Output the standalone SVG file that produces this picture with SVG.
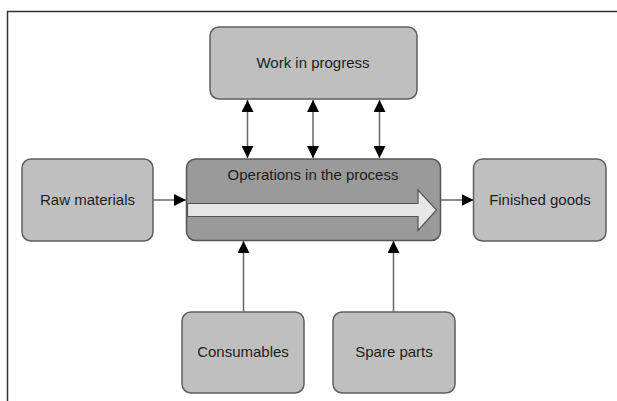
<svg xmlns="http://www.w3.org/2000/svg" width="617" height="401" viewBox="0 0 617 401">
  <defs>
    <marker id="ah" markerUnits="userSpaceOnUse" markerWidth="12" markerHeight="12" refX="12" refY="6" orient="auto-start-reverse" viewBox="0 0 12 12">
      <path d="M0,0 L12,6 L0,12 Z" fill="#000"/>
    </marker>
  </defs>
  <style>
    .box { fill: #bfbfbf; stroke: #5f5f5f; stroke-width: 1.5; }
    .main { fill: #9a9a9a; stroke: #555; stroke-width: 1.5; }
    .lbl { font-family: "Liberation Sans", Arial, sans-serif; font-size: 15px; fill: #1e1e1e; text-anchor: middle; }
    .conn { stroke: #666; stroke-width: 1.5; fill: none; }
  </style>
  <rect width="617" height="401" fill="#fff"/>
  <path d="M7.5,401 V11.5 H617" fill="none" stroke="#333" stroke-width="1.5"/>

  <g id="work-in-progress">
    <rect class="box" x="210" y="27" width="207" height="72" rx="9"/>
    <text class="lbl" x="313" y="68">Work in progress</text>
  </g>
  <g id="raw-materials">
    <rect class="box" x="22" y="159" width="131" height="82" rx="9"/>
    <text class="lbl" x="87.5" y="205">Raw materials</text>
  </g>
  <g id="operations">
    <rect class="main" x="186.5" y="159" width="254" height="81.5" rx="9"/>
    <text class="lbl" x="313" y="180">Operations in the process</text>
    <path d="M187.5,203.5 H418 V190 L436.5,210 L418,230.5 V216.5 H187.5 Z" fill="#e6e6e6" stroke="#555" stroke-width="1.2"/>
  </g>
  <g id="finished-goods">
    <rect class="box" x="473.5" y="159" width="132.5" height="82" rx="9"/>
    <text class="lbl" x="540" y="205">Finished goods</text>
  </g>
  <g id="consumables">
    <rect class="box" x="182" y="312" width="122" height="81" rx="9"/>
    <text class="lbl" x="243" y="357">Consumables</text>
  </g>
  <g id="spare-parts">
    <rect class="box" x="333" y="312" width="122" height="81" rx="9"/>
    <text class="lbl" x="394" y="357">Spare parts</text>
  </g>

  <g id="connectors">
    <line class="conn" x1="247.5" y1="100" x2="247.5" y2="158" marker-start="url(#ah)" marker-end="url(#ah)"/>
    <line class="conn" x1="313" y1="100" x2="313" y2="158" marker-start="url(#ah)" marker-end="url(#ah)"/>
    <line class="conn" x1="379.5" y1="100" x2="379.5" y2="158" marker-start="url(#ah)" marker-end="url(#ah)"/>
    <line class="conn" x1="153" y1="200" x2="186" y2="200" marker-end="url(#ah)"/>
    <line class="conn" x1="441" y1="200" x2="473.5" y2="200" marker-end="url(#ah)"/>
    <line class="conn" x1="243.5" y1="312" x2="243.5" y2="241" marker-end="url(#ah)"/>
    <line class="conn" x1="393.5" y1="312" x2="393.5" y2="241" marker-end="url(#ah)"/>
  </g>
</svg>
